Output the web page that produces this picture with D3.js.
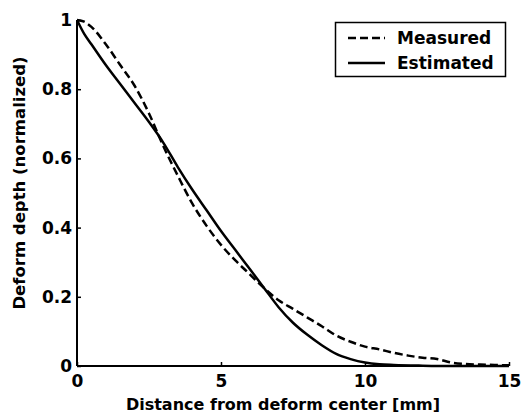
<!DOCTYPE html>
<html>
<head>
<meta charset="utf-8">
<script src="https://cdn.jsdelivr.net/npm/d3@7"></script>
<style>
  html, body { margin: 0; padding: 0; background: #fff; }
  text { font-family: "DejaVu Sans", sans-serif; font-weight: bold; fill: #000; }
</style>
</head>
<body>
<svg id="chart" width="524" height="416"></svg>
<script>
const xTicks = [0, 5, 10, 15];
const yTicks = [0, 0.2, 0.4, 0.6, 0.8, 1];
const yTickLabels = ["0", "0.2", "0.4", "0.6", "0.8", "1"];
const seriesNames = ["Measured", "Estimated"];

const measuredX = [0, 0.25, 0.5, 1, 1.5, 2, 2.5, 3, 3.5, 4, 4.5, 5, 5.5, 6, 6.5, 7, 7.5, 8, 8.5, 9, 9.5, 10, 10.5, 11, 11.5, 12, 12.5, 13, 13.5, 14, 14.5, 15];
const measuredY = [1.0, 0.995, 0.98, 0.93, 0.87, 0.81, 0.73, 0.635, 0.55, 0.47, 0.405, 0.35, 0.305, 0.265, 0.225, 0.19, 0.165, 0.14, 0.115, 0.088, 0.07, 0.056, 0.048, 0.038, 0.03, 0.024, 0.02, 0.01, 0.006, 0.004, 0.003, 0.002];

const estimatedX = [0, 0.25, 0.5, 1, 1.5, 2, 2.5, 3, 3.5, 4, 4.5, 5, 5.5, 6, 6.5, 7, 7.5, 8, 8.5, 9, 9.5, 10, 10.5, 11, 12, 13, 15];
const estimatedY = [1.0, 0.96, 0.93, 0.87, 0.815, 0.76, 0.705, 0.645, 0.575, 0.51, 0.45, 0.39, 0.335, 0.28, 0.225, 0.17, 0.125, 0.09, 0.06, 0.035, 0.02, 0.01, 0.005, 0.003, 0.001, 0, 0];

const svg = d3.select("#chart");
const mLeft = 77, mRight = 509, mTop = 20, mBottom = 366;

const x = d3.scaleLinear().domain([0, 15]).range([mLeft, mRight]);
const y = d3.scaleLinear().domain([0, 1]).range([mBottom, mTop]);

// axes
const xAxis = d3.axisBottom(x).tickValues(xTicks).tickSize(-4).tickPadding(9).tickFormat(d3.format("d"));
const yAxis = d3.axisLeft(y).tickValues(yTicks).tickSize(-4).tickPadding(5).tickFormat((d, i) => yTickLabels[i]);

const gx = svg.append("g").attr("transform", `translate(0,${mBottom})`).call(xAxis);
const gy = svg.append("g").attr("transform", `translate(${mLeft},0)`).call(yAxis);

[gx, gy].forEach(g => {
  g.select(".domain").attr("stroke", "#000").attr("stroke-width", 2);
  g.selectAll(".tick line").attr("stroke", "#000").attr("stroke-width", 1.5);
  g.selectAll(".tick text").style("font-size", "17px").style("font-family", "DejaVu Sans, sans-serif").style("font-weight", "bold").attr("fill", "#000");
});
gx.select(".domain").attr("d", `M${mLeft},0H${mRight}`);
gy.select(".domain").attr("d", `M0,${mBottom}V${mTop}`);

// lines
const line = d3.line().x(d => x(d[0])).y(d => y(d[1])).curve(d3.curveMonotoneX);
const measured = measuredX.map((v, i) => [v, measuredY[i]]);
const estimated = estimatedX.map((v, i) => [v, estimatedY[i]]);

svg.append("path").datum(estimated).attr("d", line)
  .attr("fill", "none").attr("stroke", "#000").attr("stroke-width", 2.5);
svg.append("path").datum(measured).attr("d", line)
  .attr("fill", "none").attr("stroke", "#000").attr("stroke-width", 2.5)
  .attr("stroke-dasharray", "8,4");

// axis titles
svg.append("text").attr("x", 283).attr("y", 410).attr("text-anchor", "middle")
  .style("font-size", "16px").text("Distance from deform center [mm]");
svg.append("text").attr("transform", "translate(25,183) rotate(-90)").attr("text-anchor", "middle")
  .style("font-size", "16.5px").text("Deform depth (normalized)");

// legend
const lg = svg.append("g");
lg.append("rect").attr("x", 335.5).attr("y", 22.5).attr("width", 170).attr("height", 54)
  .attr("fill", "#fff").attr("stroke", "#000").attr("stroke-width", 1.5);
const legendRows = [
  { name: seriesNames[0], dash: "8,4", yy: 38 },
  { name: seriesNames[1], dash: null, yy: 63 }
];
legendRows.forEach(r => {
  const l = lg.append("line").attr("x1", 348).attr("x2", 385).attr("y1", r.yy).attr("y2", r.yy)
    .attr("stroke", "#000").attr("stroke-width", 2.5);
  if (r.dash) l.attr("stroke-dasharray", r.dash);
  lg.append("text").attr("x", 397).attr("y", r.yy + 6).style("font-size", "17px").text(r.name);
});
</script>
</body>
</html>
